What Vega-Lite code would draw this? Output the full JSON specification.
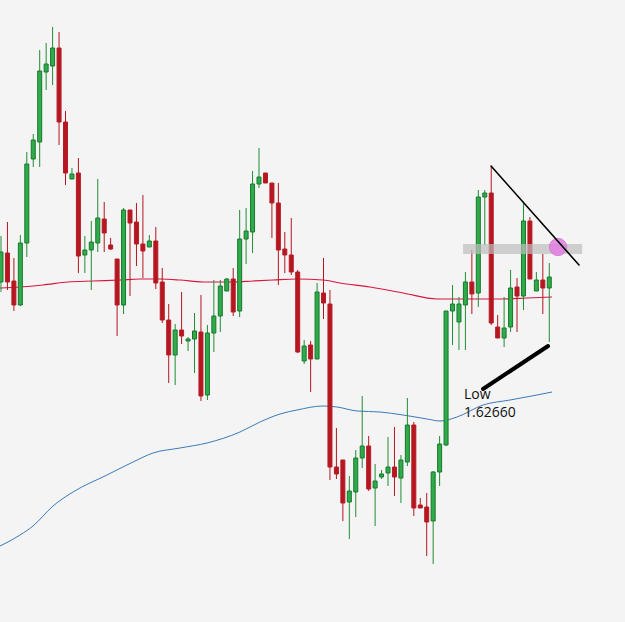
{
  "$schema": "https://vega.github.io/schema/vega-lite/v6.json",
  "width": 625,
  "height": 622,
  "autosize": {"type": "none"},
  "padding": 0,
  "background": "#f4f4f4",
  "config": {"view": {"stroke": null}},
  "datasets": {
    "candles": [
      {"i":0,"o":1.6548,"h":1.6594,"l":1.6538,"c":1.6578},
      {"i":1,"o":1.6577,"h":1.6608,"l":1.6540,"c":1.6548},
      {"i":2,"o":1.6549,"h":1.6572,"l":1.6519,"c":1.6525},
      {"i":3,"o":1.6525,"h":1.6595,"l":1.6524,"c":1.6587},
      {"i":4,"o":1.6587,"h":1.6678,"l":1.6573,"c":1.6666},
      {"i":5,"o":1.6671,"h":1.6696,"l":1.6663,"c":1.6690},
      {"i":6,"o":1.6688,"h":1.6780,"l":1.6663,"c":1.6759},
      {"i":7,"o":1.6758,"h":1.6787,"l":1.6740,"c":1.6766},
      {"i":8,"o":1.6764,"h":1.6803,"l":1.6745,"c":1.6782},
      {"i":9,"o":1.6782,"h":1.6798,"l":1.6685,"c":1.6708},
      {"i":10,"o":1.6708,"h":1.6719,"l":1.6645,"c":1.6657},
      {"i":11,"o":1.6651,"h":1.6662,"l":1.6651,"c":1.6656},
      {"i":12,"o":1.6657,"h":1.6672,"l":1.6557,"c":1.6574},
      {"i":13,"o":1.6575,"h":1.6594,"l":1.6557,"c":1.6580},
      {"i":14,"o":1.6580,"h":1.6609,"l":1.6540,"c":1.6588},
      {"i":15,"o":1.6587,"h":1.6651,"l":1.6578,"c":1.6612},
      {"i":16,"o":1.6611,"h":1.6628,"l":1.6578,"c":1.6597},
      {"i":17,"o":1.6585,"h":1.6592,"l":1.6580,"c":1.6581},
      {"i":18,"o":1.6571,"h":1.6571,"l":1.6494,"c":1.6525},
      {"i":19,"o":1.6525,"h":1.6622,"l":1.6516,"c":1.6620},
      {"i":20,"o":1.6620,"h":1.6620,"l":1.6534,"c":1.6607},
      {"i":21,"o":1.6608,"h":1.6627,"l":1.6564,"c":1.6586},
      {"i":22,"o":1.6586,"h":1.6635,"l":1.6552,"c":1.6579},
      {"i":23,"o":1.6583,"h":1.6595,"l":1.6583,"c":1.6589},
      {"i":24,"o":1.6589,"h":1.6603,"l":1.6541,"c":1.6547},
      {"i":25,"o":1.6548,"h":1.6562,"l":1.6507,"c":1.6510},
      {"i":26,"o":1.6510,"h":1.6526,"l":1.6447,"c":1.6475},
      {"i":27,"o":1.6475,"h":1.6506,"l":1.6445,"c":1.6500},
      {"i":28,"o":1.6500,"h":1.6538,"l":1.6486,"c":1.6494},
      {"i":29,"o":1.6489,"h":1.6493,"l":1.6479,"c":1.6491},
      {"i":30,"o":1.6491,"h":1.6517,"l":1.6457,"c":1.6499},
      {"i":31,"o":1.6498,"h":1.6535,"l":1.6429,"c":1.6434},
      {"i":32,"o":1.6435,"h":1.6505,"l":1.6430,"c":1.6497},
      {"i":33,"o":1.6497,"h":1.6550,"l":1.6478,"c":1.6514},
      {"i":34,"o":1.6514,"h":1.6550,"l":1.6498,"c":1.6544},
      {"i":35,"o":1.6539,"h":1.6552,"l":1.6539,"c":1.6551},
      {"i":36,"o":1.6551,"h":1.6562,"l":1.6514,"c":1.6518},
      {"i":37,"o":1.6519,"h":1.6620,"l":1.6513,"c":1.6591},
      {"i":38,"o":1.6591,"h":1.6622,"l":1.6566,"c":1.6599},
      {"i":39,"o":1.6598,"h":1.6659,"l":1.6577,"c":1.6646},
      {"i":40,"o":1.6646,"h":1.6682,"l":1.6642,"c":1.6653},
      {"i":41,"o":1.6657,"h":1.6657,"l":1.6647,"c":1.6647},
      {"i":42,"o":1.6647,"h":1.6647,"l":1.6592,"c":1.6627},
      {"i":43,"o":1.6627,"h":1.6647,"l":1.6545,"c":1.6580},
      {"i":44,"o":1.6581,"h":1.6598,"l":1.6557,"c":1.6575},
      {"i":45,"o":1.6575,"h":1.6612,"l":1.6555,"c":1.6558},
      {"i":46,"o":1.6558,"h":1.6560,"l":1.6477,"c":1.6478},
      {"i":47,"o":1.6469,"h":1.6490,"l":1.6466,"c":1.6484},
      {"i":48,"o":1.6485,"h":1.6489,"l":1.6438,"c":1.6471},
      {"i":49,"o":1.6471,"h":1.6547,"l":1.6471,"c":1.6538},
      {"i":50,"o":1.6537,"h":1.6572,"l":1.6511,"c":1.6527},
      {"i":51,"o":1.6526,"h":1.6540,"l":1.6350,"c":1.6363},
      {"i":52,"o":1.6363,"h":1.6402,"l":1.6351,"c":1.6356},
      {"i":53,"o":1.6370,"h":1.6370,"l":1.6309,"c":1.6327},
      {"i":54,"o":1.6328,"h":1.6354,"l":1.6291,"c":1.6339},
      {"i":55,"o":1.6338,"h":1.6380,"l":1.6313,"c":1.6372},
      {"i":56,"o":1.6372,"h":1.6434,"l":1.6362,"c":1.6384},
      {"i":57,"o":1.6384,"h":1.6394,"l":1.6339,"c":1.6341},
      {"i":58,"o":1.6342,"h":1.6366,"l":1.6304,"c":1.6349},
      {"i":59,"o":1.6353,"h":1.6360,"l":1.6351,"c":1.6356},
      {"i":60,"o":1.6357,"h":1.6393,"l":1.6344,"c":1.6363},
      {"i":61,"o":1.6363,"h":1.6403,"l":1.6334,"c":1.6353},
      {"i":62,"o":1.6352,"h":1.6375,"l":1.6327,"c":1.6370},
      {"i":63,"o":1.6368,"h":1.6432,"l":1.6364,"c":1.6405},
      {"i":64,"o":1.6405,"h":1.6408,"l":1.6314,"c":1.6322},
      {"i":65,"o":1.6325,"h":1.6332,"l":1.6322,"c":1.6322},
      {"i":66,"o":1.6323,"h":1.6337,"l":1.6274,"c":1.6308},
      {"i":67,"o":1.6309,"h":1.6359,"l":1.6266,"c":1.6358},
      {"i":68,"o":1.6358,"h":1.6394,"l":1.6344,"c":1.6386},
      {"i":69,"o":1.6385,"h":1.6519,"l":1.6384,"c":1.6519},
      {"i":70,"o":1.6519,"h":1.6545,"l":1.6485,"c":1.6526},
      {"i":71,"o":1.6508,"h":1.6533,"l":1.6480,"c":1.6526},
      {"i":72,"o":1.6525,"h":1.6558,"l":1.6480,"c":1.6548},
      {"i":73,"o":1.6548,"h":1.6580,"l":1.6516,"c":1.6536},
      {"i":74,"o":1.6537,"h":1.6640,"l":1.6523,"c":1.6633},
      {"i":75,"o":1.6633,"h":1.6640,"l":1.6585,"c":1.6637},
      {"i":76,"o":1.6637,"h":1.6663,"l":1.6505,"c":1.6507},
      {"i":77,"o":1.6503,"h":1.6515,"l":1.6492,"c":1.6492},
      {"i":78,"o":1.6492,"h":1.6533,"l":1.6483,"c":1.6502},
      {"i":79,"o":1.6503,"h":1.6560,"l":1.6498,"c":1.6542},
      {"i":80,"o":1.6543,"h":1.6552,"l":1.6498,"c":1.6534},
      {"i":81,"o":1.6534,"h":1.6627,"l":1.6520,"c":1.6609},
      {"i":82,"o":1.6609,"h":1.6613,"l":1.6551,"c":1.6551},
      {"i":83,"o":1.6539,"h":1.6558,"l":1.6539,"c":1.6550},
      {"i":84,"o":1.6550,"h":1.6576,"l":1.6516,"c":1.6542},
      {"i":85,"o":1.6542,"h":1.6567,"l":1.6488,"c":1.6553}
    ],
    "maRed": [
      {"i":-0.155,"p":1.6542},{"i":2.95,"p":1.6543},{"i":6.51,"p":1.6545},{"i":10.39,"p":1.6548},
      {"i":14.26,"p":1.6549},{"i":18.45,"p":1.6550},{"i":21.55,"p":1.6551},{"i":24.65,"p":1.6551},
      {"i":27.75,"p":1.6550},{"i":31.32,"p":1.6548},{"i":35.97,"p":1.6548},{"i":39.07,"p":1.6549},
      {"i":42.17,"p":1.6550},{"i":45.89,"p":1.6551},{"i":49.92,"p":1.6550},{"i":52.56,"p":1.6547},
      {"i":57.21,"p":1.6543},{"i":62.33,"p":1.6537},{"i":67.6,"p":1.6531},{"i":72.71,"p":1.6531},
      {"i":77.83,"p":1.6531},{"i":81.55,"p":1.6532},{"i":85.43,"p":1.6533}
    ],
    "maBlue": [
      {"i":-0.155,"p":1.6284},{"i":2.95,"p":1.6295},{"i":4.96,"p":1.6304},{"i":8.06,"p":1.6324},
      {"i":11.16,"p":1.6338},{"i":16.43,"p":1.6355},{"i":20.47,"p":1.6368},{"i":23.57,"p":1.6377},
      {"i":27.75,"p":1.6382},{"i":31.94,"p":1.6387},{"i":37.05,"p":1.6398},{"i":40.16,"p":1.6408},
      {"i":43.26,"p":1.6416},{"i":45.89,"p":1.6420},{"i":49.92,"p":1.6424},{"i":52.09,"p":1.6423},
      {"i":55.19,"p":1.6419},{"i":58.76,"p":1.6418},{"i":62.33,"p":1.6415},{"i":66.05,"p":1.6411},
      {"i":68.06,"p":1.6409},{"i":70.7,"p":1.6413},{"i":74.73,"p":1.6425},{"i":78.91,"p":1.6430},
      {"i":83.1,"p":1.6435},{"i":85.43,"p":1.6438}
    ],
    "trend": [
      {"name":"resistance","i1":75.97,"p1":1.6664,"i2":89.61,"p2":1.6565,"w":1.6},
      {"name":"support","i1":74.73,"p1":1.6441,"i2":84.81,"p2":1.6484,"w":4}
    ],
    "zone": [{"i1":71.63,"i2":90.1,"p1":1.6586,"p2":1.6576}],
    "marker": [{"i":86.36,"p":1.6583}],
    "labels": [
      {"i":71.78,"p":1.6431,"t":"Low"},
      {"i":71.78,"p":1.6413,"t":"1.62660"}
    ]
  },
  "layer": [
    {
      "data": {"name": "maBlue"},
      "mark": {"type": "line", "color": "#3b7bb8", "strokeWidth": 1, "interpolate": "monotone"},
      "encoding": {
        "x": {"field": "i", "type": "quantitative", "scale": {"domain": [-0.155, 96.74], "nice": false, "zero": false, "padding": 0}, "axis": null},
        "y": {"field": "p", "type": "quantitative", "scale": {"domain": [1.6208, 1.6830], "nice": false, "zero": false, "padding": 0}, "axis": null}
      }
    },
    {
      "data": {"name": "maRed"},
      "mark": {"type": "line", "color": "#d8173f", "strokeWidth": 1.2, "interpolate": "monotone"},
      "encoding": {
        "x": {"field": "i", "type": "quantitative"},
        "y": {"field": "p", "type": "quantitative"}
      }
    },
    {
      "data": {"name": "candles"},
      "mark": {"type": "rule", "strokeWidth": 1},
      "encoding": {
        "x": {"field": "i", "type": "quantitative"},
        "y": {"field": "h", "type": "quantitative"},
        "y2": {"field": "l"},
        "color": {"condition": {"test": "datum.c >= datum.o", "value": "#1f8d34"}, "value": "#b3151f"}
      }
    },
    {
      "data": {"name": "candles"},
      "mark": {"type": "bar", "size": 4, "strokeWidth": 1},
      "encoding": {
        "x": {"field": "i", "type": "quantitative"},
        "y": {"field": "o", "type": "quantitative"},
        "y2": {"field": "c"},
        "fill": {"condition": {"test": "datum.c >= datum.o", "value": "#2fab4b"}, "value": "#b5161f"},
        "stroke": {"condition": {"test": "datum.c >= datum.o", "value": "#16792a"}, "value": "#b81c26"}
      }
    },
    {
      "data": {"name": "zone"},
      "mark": {"type": "rect", "color": "#bdbdbd", "opacity": 0.7},
      "encoding": {
        "x": {"field": "i1", "type": "quantitative"},
        "x2": {"field": "i2"},
        "y": {"field": "p1", "type": "quantitative"},
        "y2": {"field": "p2"}
      }
    },
    {
      "data": {"name": "marker"},
      "mark": {"type": "point", "filled": true, "size": 300, "color": "#e27fe2", "opacity": 0.85, "stroke": "#d070d0", "strokeWidth": 1},
      "encoding": {
        "x": {"field": "i", "type": "quantitative"},
        "y": {"field": "p", "type": "quantitative"}
      }
    },
    {
      "data": {"name": "trend"},
      "mark": {"type": "rule", "color": "#000000", "strokeCap": "round"},
      "encoding": {
        "x": {"field": "i1", "type": "quantitative"},
        "x2": {"field": "i2"},
        "y": {"field": "p1", "type": "quantitative"},
        "y2": {"field": "p2"},
        "strokeWidth": {"field": "w", "type": "quantitative", "scale": null}
      }
    },
    {
      "data": {"name": "labels"},
      "mark": {"type": "text", "align": "left", "baseline": "alphabetic", "font": "Open Sans", "fontSize": 14, "color": "#111111"},
      "encoding": {
        "x": {"field": "i", "type": "quantitative"},
        "y": {"field": "p", "type": "quantitative"},
        "text": {"field": "t"}
      }
    }
  ]
}
